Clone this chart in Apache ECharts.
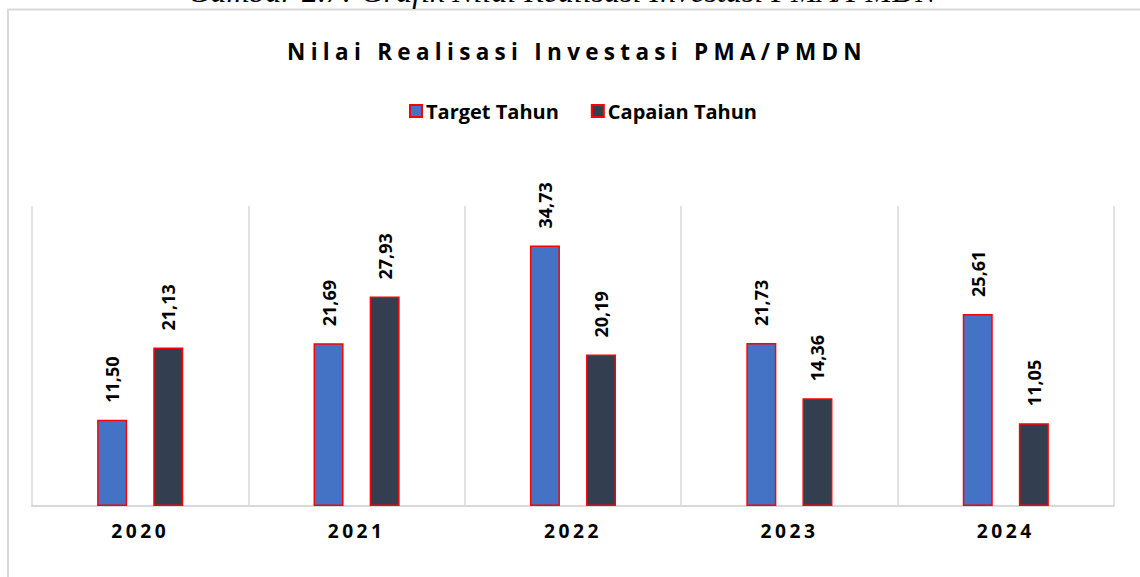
<!DOCTYPE html>
<html>
<head>
<meta charset="utf-8">
<script src="https://cdn.jsdelivr.net/npm/echarts@6/dist/echarts.min.js"></script>
<style>
  html, body { margin: 0; padding: 0; background: #fff; }
  #chart { width: 1140px; height: 577px; }
  text[style*="22.5px"] { letter-spacing: 5.3px; }
  text[style*="19.2px"] { letter-spacing: 3.5px; }
</style>
</head>
<body>
<div id="chart"></div>
<script>
const categories = ['2020', '2021', '2022', '2023', '2024'];
const targetValues = [11.50, 21.69, 34.73, 21.73, 25.61];
const capaianValues = [21.13, 27.93, 20.19, 14.36, 11.05];
const seriesNames = ['Target Tahun', 'Capaian Tahun'];
const titleText = 'Nilai Realisasi Investasi PMA/PMDN';
const captionText = 'Gambar 2.7: Grafik Nilai Realisasi Investasi PMA/PMDN';

const chart = echarts.init(document.getElementById('chart'), null, { renderer: 'svg' });

const labelCfg = {
  show: true,
  position: 'top',
  rotate: 90,
  align: 'left',
  verticalAlign: 'middle',
  distance: 17,
  fontFamily: 'Open Sans',
  fontWeight: 'bold',
  fontSize: 18,
  color: '#000',
  formatter: p => p.value.toFixed(2).replace('.', ',')
};

chart.setOption({
  animation: false,
  backgroundColor: '#fff',
  graphic: [
    { type: 'rect', shape: { x: 8, y: 9.5, width: 1200, height: 700 }, style: { fill: 'none', stroke: '#d9d9d9', lineWidth: 2 }, silent: true },
    { type: 'text', x: 562, y: 7, style: { text: captionText, font: 'italic 32px "Liberation Serif"', fill: '#000', textAlign: 'center', textVerticalAlign: 'bottom' } },
    { type: 'text', x: 577, y: 51, style: { text: titleText, font: 'bold 22.5px "Open Sans"', fill: '#000', textAlign: 'center', textVerticalAlign: 'middle' } }
  ],
  legend: {
    data: seriesNames,
    top: 101,
    left: 409,
    icon: 'rect',
    itemWidth: 12,
    itemHeight: 12,
    itemGap: 32,
    padding: 0,
    textStyle: { fontFamily: 'Open Sans', fontWeight: 'bold', fontSize: 20, color: '#000', padding: [0, 0, 0, -1] }
  },
  grid: { left: 32, right: 26, top: 206, bottom: 71 },
  xAxis: {
    type: 'category',
    data: categories,
    axisLine: { lineStyle: { color: '#d9d9d9', width: 2 } },
    axisTick: { show: false },
    splitLine: { show: true, lineStyle: { color: '#d9d9d9', width: 1.5 } },
    axisLabel: { fontFamily: 'Open Sans', fontWeight: 'bold', fontSize: 19.2, color: '#000', margin: 15 }
  },
  yAxis: {
    type: 'value',
    min: 0,
    max: 40,
    show: false,
    splitLine: { show: false }
  },
  series: [
    {
      name: seriesNames[0],
      type: 'bar',
      data: targetValues,
      barWidth: 30,
      barGap: '87%',
      itemStyle: { color: '#4472C4', borderColor: '#FF0000', borderWidth: 1.5 },
      label: labelCfg
    },
    {
      name: seriesNames[1],
      type: 'bar',
      data: capaianValues,
      barWidth: 30,
      itemStyle: { color: '#333F50', borderColor: '#FF0000', borderWidth: 1.5 },
      label: labelCfg
    }
  ]
});
</script>
</body>
</html>
